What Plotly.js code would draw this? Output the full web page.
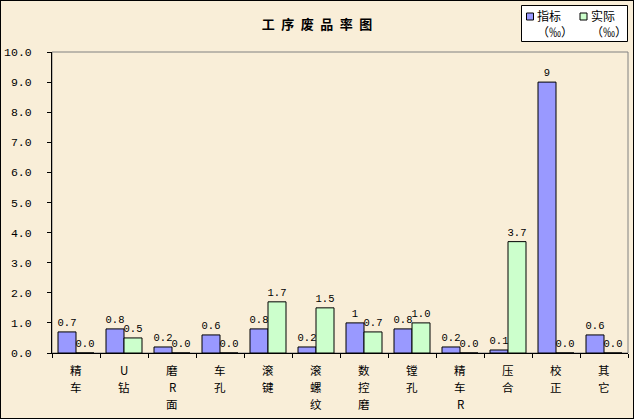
<!DOCTYPE html>
<html><head><meta charset="utf-8">
<script src="https://cdn.plot.ly/plotly-3.0.1.min.js"></script>
<style>
html,body{margin:0;padding:0;background:#fff;}
#chart{width:632px;height:417px;border:1px solid #000;}
</style>
</head><body>
<div id="chart"></div>
<script>
const categories = ['精车','U钻','磨R面','车孔','滚键','滚螺纹','数控磨','镗孔','精车R','压合','校正','其它'];
const targetValues = [0.7, 0.8, 0.2, 0.6, 0.8, 0.2, 1, 0.8, 0.2, 0.1, 9, 0.6];
const targetLabels = ['0.7','0.8','0.2','0.6','0.8','0.2','1','0.8','0.2','0.1','9','0.6'];
const actualValues = [0.0, 0.5, 0.0, 0.0, 1.7, 1.5, 0.7, 1.0, 0.0, 3.7, 0.0, 0.0];
const actualLabels = ['0.0','0.5','0.0','0.0','1.7','1.5','0.7','1.0','0.0','3.7','0.0','0.0'];
const seriesNames = ['指标', '实际'];
const seriesUnit = '（‰）';
const seriesColors = ['#9999ff', '#ccffcc'];
const titleText = '工序废品率图';

const numFont = 'Liberation Mono, Noto Sans CJK SC, monospace';
const cjkFont = 'Noto Sans CJK SC, sans-serif';
const bg = '#f9eed8';

const W = 632, H = 417;
const M = {l:51, r:5, t:51, b:65};
const PW = W - M.l - M.r, PH = H - M.t - M.b;
// container pixel -> paper coords
const px = x => (x - M.l) / PW;
const py = y => (H - M.b - y) / PH;

const traces = seriesNames.map((name, i) => ({
  type:'bar', name:name,
  x:categories, y:[targetValues, actualValues][i], text:[targetLabels, actualLabels][i],
  textposition:'outside', constraintext:'none', cliponaxis:false,
  textfont:{family:numFont, size:10.5, color:'#000'},
  marker:{color:seriesColors[i], line:{color:'#000', width:1}},
  showlegend:false
}));

const annotations = [];
// category labels, one character per line
categories.forEach(c => {
  Array.from(c).forEach((ch, j) => {
    annotations.push({x:c, xref:'x', y:0, yref:'paper', text:ch, showarrow:false,
      xanchor:'center', yanchor:'middle', yshift:-(17 + 17*j), borderpad:0,
      font:{family:cjkFont, size:11.5, color:'#000'}});
  });
});

// manual legend
const shapes = [
  {type:'rect', xref:'paper', yref:'paper', x0:0, x1:1, y0:0, y1:1,
   line:{color:'#808080', width:1}, layer:'below'},
  {type:'rect', xref:'paper', yref:'paper', x0:px(520.5), x1:px(626.5), y0:py(40.5), y1:py(4.5),
   fillcolor:'#fff', line:{color:'#000', width:1}}
];
const legendX = [525.5, 579];
seriesNames.forEach((name, i) => {
  shapes.push({type:'rect', xref:'paper', yref:'paper',
    x0:px(legendX[i]), x1:px(legendX[i] + 7), y0:py(19), y1:py(12),
    fillcolor:seriesColors[i], line:{color:'#000', width:1}});
  annotations.push({xref:'paper', yref:'paper', x:px(legendX[i] + 9.5), y:py(22.5),
    text:name + '<br>' + seriesUnit, showarrow:false, xanchor:'left', yanchor:'middle',
    align:'left', borderpad:0,
    font:{family:cjkFont, size:12, color:'#000'}});
});

const layout = {
  width:W, height:H, margin:M,
  paper_bgcolor:bg, plot_bgcolor:bg,
  barmode:'group', bargap:0.25, bargroupgap:0,
  title:{text:Array.from(titleText).join('\u2002'), x:0.5, xref:'container', y:1 - 23/H, yref:'container',
         xanchor:'center', yanchor:'middle',
         font:{family:cjkFont, size:13, color:'#000', weight:'bold'}},
  xaxis:{type:'category', showticklabels:false,
         showline:true, linecolor:'#000', linewidth:1,
         ticks:'outside', tickson:'boundaries', ticklen:4, tickcolor:'#000',
         showgrid:false, zeroline:false, fixedrange:true},
  yaxis:{range:[0,10], dtick:1, tick0:0, tickformat:'.1f',
         showline:true, linecolor:'#000', linewidth:1,
         ticks:'outside', ticklen:4, tickcolor:'#000',
         ticklabelstandoff:13,
         tickfont:{family:numFont, size:11.5, color:'#000'},
         showgrid:false, zeroline:false, fixedrange:true},
  shapes:shapes,
  annotations:annotations,
  showlegend:false
};

Plotly.newPlot('chart', traces, layout, {displayModeBar:false, staticPlot:true});
</script>
</body></html>
